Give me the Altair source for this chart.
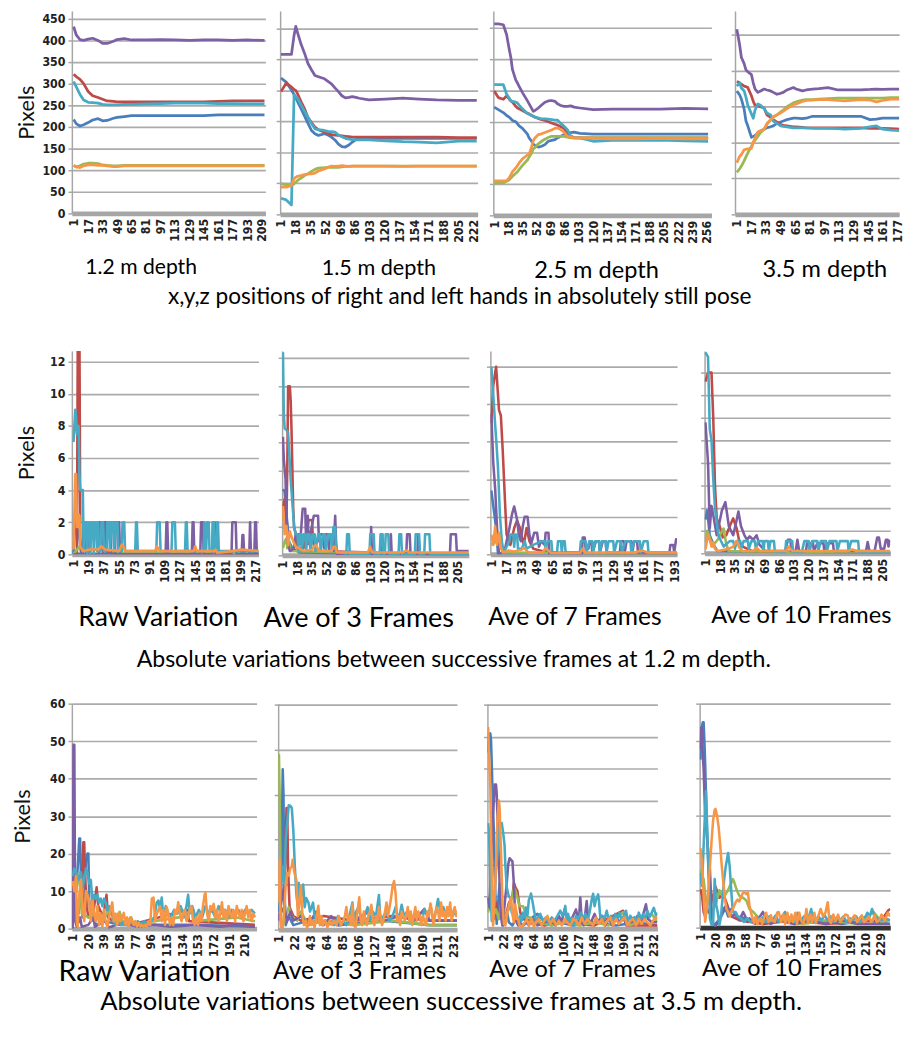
import altair as alt
import pandas as pd

SERIES = ["S1", "S2", "S3", "S4", "S5", "S6"]
COLORS = ["#4A7EBB", "#BE4B48", "#98B954", "#7D5FA3", "#46AAC5", "#F79646"]
LABEL_FONT = "Liberation Sans Narrow, DejaVu Sans Condensed, Liberation Sans, sans-serif"
TITLE_FONT = "Lato"

# ---------------- Row 1 : positions (pixels) ----------------
r1p1_x = [1, 4, 8, 12, 17, 22, 28, 33, 38, 45, 49, 57, 65, 81, 97, 113, 129, 145, 161, 177, 193, 209, 212]
r1p1 = {
    "S1": [217, 207, 202, 205, 210, 216, 219, 214, 215, 220, 222, 224, 226, 226, 226, 226, 226, 226, 228, 228, 228, 228, 228],
    "S2": [322, 316, 310, 300, 282, 272, 268, 264, 260, 259, 258, 258, 258, 258, 258, 258, 258, 258, 259, 260, 260, 260, 260],
    "S3": [111, 107, 110, 114, 116, 116, 115, 112, 111, 110, 110, 111, 111, 111, 111, 111, 111, 111, 111, 111, 111, 111, 111],
    "S4": [432, 412, 402, 400, 403, 405, 400, 393, 393, 398, 402, 404, 401, 401, 402, 401, 400, 401, 401, 400, 401, 400, 400],
    "S5": [305, 292, 275, 262, 257, 256, 255, 252, 251, 251, 251, 252, 252, 253, 254, 255, 255, 255, 254, 254, 253, 253, 253],
    "S6": [111, 108, 106, 110, 112, 112, 111, 111, 110, 108, 108, 110, 110, 110, 110, 110, 110, 110, 110, 110, 110, 110, 110],
}
r1p2_x = [1, 7, 13, 16, 18, 20, 24, 28, 32, 36, 40, 44, 51, 55, 59, 63, 67, 71, 75, 79, 83, 87, 91, 102, 121, 141, 160, 180, 205, 226]
r1p2 = {
    "S1": [330, 320, 301, 290, 282, 273, 256, 238, 220, 203, 195, 191, 195, 192, 187, 180, 170, 164, 163, 168, 175, 181, 183, 184, 184, 184, 184, 184, 184, 184],
    "S2": [297, 318, 308, 302, 300, 292, 273, 256, 234, 222, 211, 205, 199, 196, 193, 192, 191, 190, 189, 188, 187, 187, 187, 187, 187, 187, 187, 187, 186, 186],
    "S3": [74, 72, 70, 74, 78, 82, 88, 94, 98, 104, 109, 112, 113, 114, 114, 114, 114, 115, 116, 116, 117, 117, 117, 117, 117, 117, 117, 117, 117, 117],
    "S4": [387, 387, 387, 433, 455, 440, 412, 390, 365, 350, 336, 333, 328, 322, 316, 306, 297, 287, 282, 283, 285, 283, 281, 277, 279, 281, 279, 277, 276, 276],
    "S5": [39, 35, 23, 289, 285, 281, 265, 250, 235, 220, 207, 205, 203, 201, 200, 199, 192, 188, 184, 182, 181, 180, 180, 180, 178, 176, 175, 173, 177, 177],
    "S6": [66, 66, 70, 86, 90, 92, 94, 96, 98, 98, 100, 105, 110, 114, 117, 116, 117, 118, 117, 116, 117, 117, 117, 117, 117, 116, 117, 117, 117, 117],
}
r1p3_x = [1, 6, 12, 16, 19, 21, 23, 27, 29, 31, 35, 41, 43, 46, 48, 50, 54, 58, 62, 66, 70, 74, 77, 81, 85, 89, 93, 97, 104, 120, 143, 170, 200, 230, 258]
r1p3 = {
    "S1": [260, 254, 247, 240, 236, 232, 228, 225, 220, 215, 209, 195, 186, 178, 171, 168, 164, 166, 170, 178, 180, 182, 186, 190, 194, 198, 199, 200, 197, 195, 195, 195, 195, 195, 195],
    "S2": [299, 283, 279, 287, 280, 275, 272, 262, 258, 256, 252, 245, 244, 240, 238, 236, 233, 230, 228, 225, 222, 219, 217, 213, 209, 194, 190, 187, 186, 186, 186, 186, 186, 186, 186],
    "S3": [78, 78, 78, 82, 85, 90, 94, 101, 105, 110, 120, 133, 140, 150, 160, 163, 172, 178, 183, 187, 190, 190, 190, 190, 190, 188, 186, 186, 186, 186, 186, 186, 186, 186, 186],
    "S4": [460, 460, 458, 434, 400, 380, 350, 325, 318, 310, 295, 275, 268, 257, 250, 252, 258, 265, 272, 275, 276, 274, 268, 264, 262, 262, 263, 260, 258, 254, 255, 255, 255, 257, 256],
    "S5": [314, 314, 314, 291, 282, 275, 274, 272, 270, 265, 256, 245, 243, 240, 238, 236, 234, 232, 232, 231, 230, 229, 229, 221, 214, 206, 190, 186, 186, 178, 180, 180, 181, 179, 178],
    "S6": [83, 83, 83, 83, 90, 97, 105, 114, 120, 126, 136, 145, 147, 165, 180, 186, 194, 196, 199, 202, 205, 209, 210, 206, 200, 190, 188, 186, 186, 185, 184, 184, 185, 184, 184],
}
r1p4_x = [1, 4, 6, 9, 11, 13, 17, 19, 21, 24, 27, 31, 34, 38, 41, 45, 49, 52, 56, 63, 66, 73, 77, 84, 91, 101, 112, 119, 137, 147, 154, 161, 170, 180]
r1p4 = {
    "S1": [258, 250, 241, 220, 195, 185, 161, 163, 165, 170, 174, 178, 181, 183, 185, 190, 193, 195, 198, 201, 201, 200, 201, 205, 205, 205, 205, 205, 205, 198, 199, 201, 201, 201],
    "S2": [278, 275, 272, 268, 267, 265, 248, 236, 228, 226, 225, 222, 208, 203, 198, 193, 188, 186, 185, 183, 183, 182, 181, 181, 181, 181, 181, 181, 181, 180, 180, 180, 179, 178],
    "S3": [88, 95, 101, 112, 120, 128, 142, 150, 155, 163, 171, 178, 188, 198, 204, 208, 214, 218, 225, 233, 235, 239, 240, 240, 241, 242, 243, 243, 243, 243, 243, 243, 244, 244],
    "S4": [387, 355, 328, 315, 302, 298, 292, 275, 262, 255, 258, 262, 260, 258, 255, 251, 253, 255, 260, 265, 262, 258, 260, 262, 263, 265, 260, 260, 260, 261, 262, 261, 262, 262],
    "S5": [268, 275, 264, 258, 245, 228, 210, 201, 218, 231, 228, 221, 212, 208, 195, 190, 185, 184, 183, 181, 181, 181, 181, 180, 180, 180, 179, 178, 180, 183, 185, 178, 176, 175],
    "S6": [108, 121, 125, 135, 136, 137, 138, 150, 160, 172, 175, 178, 190, 197, 203, 208, 212, 216, 221, 229, 231, 236, 238, 239, 240, 240, 238, 237, 240, 239, 235, 238, 241, 241],
}

# ---------------- Row 2 : variations at 1.2 m (frame, pixels) ----------------
r2p1 = {
    "S1": [(1, 0), (4, 3), (6, 2), (10, 0), (222, 0)],
    "S2": [(1, 0), (5, 0), (6, 13.5), (8, 13.5), (9, 1), (10, 0.3), (31, 0.3), (32, 2), (35, 2), (36, 0.3), (50, 0), (222, 0)],
    "S3": [(1, 0), (8, 0.5), (12, 0.3), (31, 0.3), (33, 0.8), (35, 0.3), (60, 0.1), (222, 0.1)],
    "S4": [(1, 0), (12, 0), (13, 2), (15, 2), (16, 0), (17, 2), (19, 2), (20, 0), (31, 0), (32, 2), (35, 2), (36, 0), (37, 2), (39, 2), (40, 0), (41, 2), (44, 2), (45, 0), (46, 2), (49, 2), (50, 0), (51, 2), (55, 2), (56, 0), (110, 0), (111, 2), (112, 2), (113, 0), (141, 0), (142, 2), (143, 2), (144, 0), (151, 0), (152, 2), (154, 2), (155, 0), (165, 0), (166, 2), (168, 2), (169, 0), (188, 0), (189, 2), (193, 2), (194, 0), (200, 0), (201, 1.2), (202, 1.2), (203, 0), (209, 0), (210, 2), (211, 0), (215, 0), (216, 2), (217, 2), (218, 0), (222, 0)],
    "S5": [(1, 7), (3, 9), (4, 8.5), (5, 7.5), (6, 8), (7, 8), (8, 5), (9, 4), (12, 4), (13, 0.2), (14, 2), (16, 2), (17, 0), (18, 2), (20, 2), (21, 0), (22, 2), (24, 2), (25, 0), (26, 2), (28, 2), (29, 0.2), (30, 2), (31, 0.2), (33, 0.2), (34, 2), (36, 2), (37, 0.2), (40, 0.2), (41, 2), (43, 2), (44, 0.2), (46, 2), (48, 2), (49, 0.2), (51, 2), (53, 2), (54, 0.2), (58, 0.2), (59, 2), (61, 2), (62, 0.2), (74, 0.2), (75, 2), (76, 2), (77, 0.2), (99, 0.2), (100, 2), (103, 2), (104, 0.2), (117, 0.2), (118, 2), (121, 2), (122, 0.2), (133, 0.2), (134, 2), (135, 2), (136, 0.2), (155, 0.2), (156, 2), (158, 0.2), (159, 2), (161, 2), (162, 0.2), (165, 0.2), (166, 2), (167, 2), (168, 0.2), (170, 0.2), (171, 2), (172, 2), (173, 0.2), (222, 0.2)],
    "S6": [(1, 0.3), (3, 5), (4, 5), (5, 1.7), (6, 1.7), (7, 2.5), (8, 2.4), (9, 0.5), (12, 0.2), (20, 0.3), (30, 0.3), (34, 0.5), (38, 0.3), (55, 0.2), (58, 0.6), (60, 0.5), (62, 0.2), (98, 0.2), (99, 0.5), (101, 0.4), (103, 0.2), (143, 0.2), (145, 0.5), (147, 0.2), (168, 0.2), (169, 0.3), (171, 0.1), (190, 0.2), (200, 0.3), (222, 0.2)],
}
r2p2 = {
    "S1": [(1, 4.7), (3, 4.5), (5, 3), (8, 1), (12, 0.5), (20, 0.2), (218, 0)],
    "S2": [(1, 3.3), (3, 4), (5, 2), (6, 6), (7, 12), (9, 12), (10, 11), (11, 8.9), (13, 3.3), (14, 2), (16, 1.5), (18, 0.5), (25, 0.5), (28, 1.5), (31, 2.5), (33, 2.5), (35, 2.5), (36, 1), (38, 0.5), (45, 0.3), (218, 0)],
    "S3": [(1, 0.5), (3, 1), (5, 1.2), (6, 0.5), (8, 1), (10, 0.3), (218, 0)],
    "S4": [(1, 8.4), (2, 6.8), (4, 5.4), (5, 2.9), (7, 0.8), (9, 0.3), (14, 0.5), (16, 1.5), (19, 1.5), (21, 0.8), (24, 3.3), (27, 3.3), (28, 1), (30, 2.8), (31, 0.8), (33, 1.5), (37, 2.8), (40, 2.8), (42, 2.8), (43, 1), (45, 1.5), (48, 1.5), (49, 0.5), (51, 1.5), (54, 1.5), (55, 0.3), (60, 0.3), (62, 2.8), (63, 1), (64, 0.1), (103, 0.1), (104, 2), (105, 0.1), (115, 0.1), (116, 1.5), (117, 1.5), (118, 0.1), (126, 0.1), (127, 1.5), (128, 0.1), (145, 0.1), (146, 1.5), (149, 1.5), (150, 0.1), (158, 0.1), (159, 1.5), (161, 0.1), (196, 0.1), (197, 1.5), (203, 1.5), (204, 0.3), (218, 0.3)],
    "S5": [(1, 14.4), (2, 10), (3, 9), (5, 8.9), (7, 8.7), (9, 6.6), (10, 5.4), (13, 2.9), (14, 2), (16, 1.5), (18, 1.5), (19, 0.3), (20, 1.5), (22, 1.5), (23, 0.3), (25, 1.5), (27, 1.5), (28, 0.3), (30, 1.5), (32, 1.5), (33, 0.3), (36, 1.5), (38, 1.5), (39, 0.3), (42, 1.5), (44, 1.5), (45, 0.3), (48, 1.5), (50, 1.5), (51, 0.3), (54, 1.5), (57, 1.5), (58, 0.3), (60, 2), (62, 2), (63, 0.3), (75, 0.1), (76, 1.5), (78, 1.5), (79, 0.1), (102, 0.1), (103, 1.5), (107, 1.5), (108, 0.1), (114, 0.1), (115, 1.5), (117, 1.5), (118, 0.1), (120, 0.1), (121, 1.5), (124, 1.5), (125, 0.1), (136, 0.1), (137, 1.5), (139, 1.5), (140, 0.1), (155, 0.1), (156, 1.5), (160, 1.5), (161, 0.1), (166, 0.1), (167, 1.5), (172, 1.5), (173, 0.1), (218, 0.1)],
    "S6": [(1, 3.5), (2, 2.5), (3, 1.5), (5, 2.1), (7, 0.7), (9, 1.7), (10, 1.5), (13, 1), (16, 0.6), (20, 0.5), (25, 0.3), (35, 0.4), (38, 0.7), (40, 0.7), (43, 0.3), (58, 0.3), (60, 0.6), (62, 0.6), (64, 0.2), (100, 0.2), (103, 0.6), (105, 0.2), (140, 0.2), (146, 0.35), (148, 0.2), (218, 0.2)],
}
r2p3 = {
    "S1": [(1, 3.4), (3, 2.6), (6, 1.4), (8, 0), (196, 0)],
    "S2": [(1, 7), (3, 9), (6, 10), (8, 8.5), (9, 7.7), (11, 7.4), (13, 5.5), (15, 3.2), (17, 1.05), (21, 0.5), (25, 1.4), (28, 1.8), (31, 1.4), (35, 0.5), (38, 1.4), (41, 0.7), (45, 0.3), (60, 0.1), (196, 0)],
    "S3": [(1, 0.5), (4, 0.6), (9, 0.9), (10, 0.7), (12, 0.3), (15, 0.1), (196, 0)],
    "S4": [(1, 7.5), (3, 4.9), (5, 3.5), (7, 1.4), (9, 0), (15, 0.2), (20, 1.4), (23, 2.2), (25, 2.55), (28, 1.85), (30, 1), (32, 0.7), (34, 1.5), (36, 2), (39, 2), (41, 1.05), (43, 0.6), (46, 1.15), (49, 1.15), (51, 0.4), (53, 0.7), (57, 0.5), (58, 1.15), (61, 1.15), (62, 0), (96, 0), (97, 0.9), (99, 0.9), (100, 0.3), (103, 0.3), (104, 0.7), (106, 0.7), (107, 0.1), (111, 0.7), (114, 0.7), (115, 0.1), (118, 0.7), (121, 0.7), (122, 0.1), (136, 0.1), (137, 0.7), (140, 0.7), (141, 0.1), (143, 0.7), (148, 0.7), (149, 0.1), (151, 0.7), (154, 0.7), (155, 0.1), (188, 0.1), (189, 0.5), (192, 0.5), (193, 0.1), (195, 0.8), (196, 0.8)],
    "S5": [(1, 10), (3, 8.5), (5, 6.9), (6, 6.2), (8, 4.6), (10, 2.1), (12, 0.7), (14, 0.1), (16, 0.3), (20, 0.7), (21, 1.05), (24, 1.05), (25, 0.4), (26, 1.05), (28, 1.05), (29, 0.3), (33, 0.3), (36, 0.7), (38, 0.3), (45, 0.5), (54, 0.7), (57, 0.7), (58, 0.2), (60, 0.7), (64, 0.7), (65, 0.1), (70, 0.1), (71, 0.7), (74, 0.7), (75, 0.1), (76, 0.7), (78, 0.7), (79, 0.1), (94, 0.1), (95, 0.7), (100, 0.7), (101, 0.1), (104, 0.7), (107, 0.7), (108, 0.1), (110, 0.7), (114, 0.7), (115, 0.1), (117, 0.7), (121, 0.7), (122, 0.1), (124, 0.7), (129, 0.7), (130, 0.1), (133, 0.7), (137, 0.7), (138, 0.1), (142, 0.7), (147, 0.7), (148, 0.1), (151, 0.7), (157, 0.7), (158, 0.1), (161, 0.7), (165, 0.7), (166, 0.1), (196, 0.1)],
    "S6": [(1, 1.05), (3, 0.5), (5, 1.5), (7, 0.5), (9, 1.15), (11, 0.35), (13, 0.1), (19, 0.2), (25, 0.15), (33, 0.25), (35, 0.35), (37, 0.25), (40, 0.1), (55, 0.1), (58, 0.35), (61, 0.2), (64, 0.05), (94, 0.05), (97, 0.3), (100, 0.1), (150, 0.1), (160, 0.2), (165, 0.1), (196, 0.1)],
}
r2p4 = {
    "S1": [(1, 1.5), (3, 1.9), (6, 0.8), (10, 0.4), (15, 0.1), (214, 0)],
    "S2": [(1, 7.6), (4, 8), (8, 8), (10, 6), (12, 3), (14, 1.55), (17, 1.26), (21, 0.7), (25, 0.8), (29, 1.2), (33, 1.55), (37, 1.1), (40, 0.54), (44, 0.3), (55, 0.1), (214, 0)],
    "S3": [(1, 0.5), (3, 1), (6, 0.7), (9, 0.3), (15, 0.6), (19, 0.9), (22, 1.1), (25, 0.4), (28, 0.1), (214, 0)],
    "S4": [(1, 5.8), (4, 4), (6, 1.1), (8, 2.1), (10, 1.7), (14, 0.8), (20, 1.9), (24, 2.27), (28, 1.2), (33, 0.8), (36, 1.3), (39, 1.85), (42, 1.2), (46, 0.8), (49, 0.6), (52, 0.75), (56, 0.6), (60, 0.8), (63, 0.4), (70, 0.1), (93, 0.1), (96, 0.6), (99, 0.6), (100, 0.1), (105, 0.1), (107, 0.6), (109, 0.1), (117, 0.1), (118, 0.45), (125, 0.45), (126, 0.1), (130, 0.45), (137, 0.45), (138, 0.1), (142, 0.45), (148, 0.45), (149, 0.1), (186, 0.1), (188, 0.5), (190, 0.1), (196, 0.1), (199, 0.7), (201, 0.7), (203, 0.2), (207, 0.2), (209, 0.6), (211, 0.6), (212, 0.3), (214, 0.6)],
    "S5": [(1, 8.9), (4, 8.7), (6, 5.5), (8, 5), (10, 3.3), (12, 2), (16, 0.8), (19, 0.54), (22, 0.3), (29, 0.54), (33, 0.54), (35, 0.2), (37, 0.54), (41, 0.54), (42, 0.2), (45, 0.54), (50, 0.54), (51, 0.2), (54, 0.54), (58, 0.54), (59, 0.2), (62, 0.54), (67, 0.54), (68, 0.1), (69, 0.54), (73, 0.54), (74, 0.1), (76, 0.54), (80, 0.54), (81, 0.05), (93, 0.05), (94, 0.54), (101, 0.54), (102, 0.05), (112, 0.05), (115, 0.54), (120, 0.54), (121, 0.1), (124, 0.54), (130, 0.54), (131, 0.1), (134, 0.54), (140, 0.54), (141, 0.1), (144, 0.54), (152, 0.54), (153, 0.1), (156, 0.54), (165, 0.54), (166, 0.1), (169, 0.54), (177, 0.54), (178, 0.05), (214, 0.05)],
    "S6": [(1, 0.17), (4, 0.83), (6, 0.6), (8, 0.3), (10, 0.5), (12, 0.2), (16, 0.1), (28, 0.2), (33, 0.3), (37, 0.54), (40, 0.25), (44, 0.1), (56, 0.1), (60, 0.25), (64, 0.1), (94, 0.1), (97, 0.3), (101, 0.1), (165, 0.1), (170, 0.17), (175, 0.1), (214, 0.1)],
}

# ---------------- Row 3 : variations at 3.5 m (frame, pixels) ----------------
r3p1 = {
    "S1": [(1, 14), (3, 16), (5, 10), (7, 16), (9, 24), (10, 24), (11, 14), (13, 3), (15, 8), (17, 18), (19, 20), (20, 20), (21, 8), (23, 3), (30, 1), (40, 2), (60, 1), (100, 1), (150, 1), (222, 0.5)],
    "S2": [(1, 5), (8, 4), (12, 10), (14, 23), (15, 23), (16, 14), (18, 6), (20, 3), (26, 4), (30, 11), (32, 6), (38, 3), (42, 9), (44, 3), (50, 2), (80, 1.5), (140, 5), (142, 2), (222, 1)],
    "S3": [(1, 6), (10, 15), (12, 4), (20, 3), (30, 4), (40, 3), (47, 5.5), (50, 2), (58, 4.5), (62, 1), (72, 3), (75, 1), (100, 2), (130, 3), (147, 5), (150, 2), (200, 3), (222, 2)],
    "S4": [(1, 0), (2, 49), (3, 49), (4, 2), (6, 0.5), (10, 3), (12, 0.5), (20, 1), (26, 3), (28, 0.5), (40, 2), (45, 0.3), (60, 1.5), (80, 0.5), (100, 1), (120, 0.5), (150, 1), (180, 0.5), (200, 1), (222, 0.5)],
    "S5": [(1, 14), (3, 16), (5, 15), (7, 14), (9, 13), (11, 15), (13, 11), (15, 13), (17, 16), (19, 15), (21, 12), (23, 13), (25, 7), (27, 9), (29, 8), (31, 9), (33, 7), (35, 8), (37, 6), (39, 8), (41, 7), (43, 5), (45, 6), (47, 4), (49, 5), (51, 2), (53, 1), (56, 2), (60, 1), (64, 2), (68, 1), (72, 2), (76, 1), (80, 2), (84, 1), (88, 2), (92, 1), (96, 2), (100, 3), (103, 7), (105, 7.5), (107, 5), (109, 8.3), (111, 3), (114, 6), (117, 4), (120, 3), (124, 5), (128, 4), (132, 6), (136, 3), (139, 6), (141, 9), (143, 4), (146, 6), (150, 3), (154, 5), (158, 3), (162, 6), (166, 4), (170, 5), (174, 3), (178, 6), (182, 4), (186, 5), (190, 3), (194, 5), (198, 4), (202, 5), (206, 3), (210, 5), (214, 4), (218, 5), (222, 4)],
    "S6": [(1, 12.7), (3, 10), (5, 14), (6, 2), (7, 0.5), (9, 9), (11, 13), (13, 6), (15, 2), (17, 10), (19, 9), (21, 7.5), (23, 2), (25, 7.5), (27, 4), (29, 2), (31, 6), (33, 1), (35, 4), (37, 0.5), (39, 5), (41, 2), (43, 0.5), (45, 3), (47, 5), (49, 7), (51, 2), (53, 4), (55, 1), (57, 4), (59, 2), (61, 3), (63, 4.2), (65, 1), (67, 3), (69, 0.5), (71, 3), (73, 2), (75, 1), (77, 2), (79, 0.5), (81, 1.5), (83, 0.5), (85, 1), (87, 0.5), (89, 1), (91, 0.5), (93, 2), (95, 1), (97, 8), (99, 8.3), (101, 2), (103, 4), (105, 5), (107, 6), (109, 2), (111, 5), (113, 1), (115, 5.7), (117, 4), (119, 1), (121, 3), (123, 1), (125, 5), (127, 4), (129, 7), (131, 4), (133, 2), (135, 4), (137, 5), (139, 2), (141, 3), (143, 5), (145, 6), (147, 2), (149, 1), (151, 3), (153, 1), (155, 4), (157, 2), (159, 6), (161, 9), (162, 9.6), (164, 4), (166, 2), (168, 6), (170, 5), (172, 6.6), (174, 3), (176, 5), (178, 2), (180, 4), (182, 7), (184, 3), (186, 5), (188, 2), (190, 6), (192, 4), (194, 3), (196, 5), (198, 2), (200, 6), (202, 4), (204, 3), (206, 5), (208, 2), (210, 4), (212, 6), (214, 3), (216, 5), (218, 2), (220, 4), (222, 3)],
}
r3p2 = {
    "S1": [(1, 4), (4, 10), (6, 35.6), (7, 30), (8, 9.7), (10, 1), (14, 3), (20, 1), (40, 2), (80, 1), (140, 2), (200, 1), (236, 1)],
    "S2": [(1, 3), (8, 5), (10, 20), (11, 27), (12, 27), (13, 14), (15, 5), (20, 3), (30, 2), (60, 3), (100, 2), (150, 3), (200, 2), (236, 2)],
    "S3": [(1, 39), (2, 30), (3, 14), (4, 2), (6, 1), (10, 3), (14, 5), (18, 3), (25, 2), (30, 4), (40, 1), (60, 2), (100, 1), (150, 2), (200, 1), (236, 1)],
    "S4": [(1, 2), (3, 5), (6, 8), (8, 10), (9, 4), (12, 2), (16, 4), (20, 2), (30, 3), (40, 1), (50, 4), (60, 1), (70, 3), (80, 1), (100, 2), (120, 4), (140, 2), (160, 3), (180, 2), (193, 4.6), (200, 2), (236, 2)],
    "S5": [(1, 8), (2, 6), (4, 11), (6, 14), (8, 10), (10, 20), (12, 24), (14, 27.6), (16, 27.5), (18, 27), (20, 22), (22, 14), (24, 8), (26, 5), (27, 10.4), (29, 6), (31, 8), (33, 10), (35, 5), (37, 7), (40, 6), (42, 4), (44, 5), (46, 6), (48, 3), (50, 2), (54, 3), (58, 1), (62, 2), (66, 1), (70, 2), (74, 1), (77, 2), (79, 3), (82, 1), (86, 2), (90, 1), (94, 3), (98, 6), (100, 2), (103, 4), (106, 5), (110, 2), (114, 3), (118, 5), (121, 2), (125, 4), (129, 3), (133, 7.7), (135, 2), (139, 3), (143, 4), (147, 2), (151, 3), (155, 5), (159, 2), (163, 5.5), (166, 3), (170, 4), (174, 2), (178, 3), (182, 4), (186, 3), (190, 2), (193, 4.6), (197, 3), (201, 5), (205, 2), (208, 4), (211, 6.8), (214, 4), (218, 5), (222, 3), (226, 5), (230, 3), (234, 4), (236, 3)],
    "S6": [(1, 6), (2, 15.5), (3, 2), (4, 0.5), (6, 0.5), (8, 4), (10, 10), (12, 12.6), (14, 12), (16, 13.7), (18, 14), (19, 15.5), (21, 13), (24, 11), (26, 3), (28, 6), (30, 9.7), (32, 3), (34, 1), (36, 2), (38, 0.5), (40, 1), (42, 3), (44, 1), (46, 2), (48, 0.5), (50, 2), (53, 5.3), (55, 1), (57, 3), (59, 1), (62, 2), (65, 0.5), (68, 2), (71, 1), (74, 2), (77, 1), (80, 3), (83, 1), (86, 2), (88, 3), (90, 5), (92, 2), (94, 3), (96, 1), (98, 5.7), (100, 1), (102, 0.5), (104, 3), (107, 7.2), (109, 2), (111, 1), (113, 4), (115, 2), (117, 1), (119, 3), (121, 4), (123, 5.5), (125, 2), (127, 1), (129, 3), (131, 2), (133, 5), (135, 3), (137, 1), (139, 2), (141, 4), (143, 6), (145, 3), (147, 5), (149, 7), (151, 9.7), (153, 10.8), (155, 8), (157, 2), (159, 3), (161, 1), (163, 4), (165, 3), (167, 2), (169, 3), (171, 5), (173, 2), (175, 4), (177, 1), (179, 3), (181, 5), (183, 2), (185, 4), (187, 3), (189, 1), (191, 3), (193, 2), (195, 1), (197, 4), (199, 3), (201, 5.8), (203, 4), (205, 1), (207, 3), (209, 5), (211, 4), (213, 2), (215, 6), (217, 3), (219, 4), (221, 2), (223, 5), (225, 3), (227, 6), (229, 2), (231, 4), (233, 5), (235, 3), (236, 4)],
}
r3p3 = {
    "S1": [(1, 55), (2, 60.7), (4, 61), (5, 59), (7, 44), (9, 30), (10, 18), (12, 5), (13, 1.5), (15, 8), (17, 14), (18, 10), (20, 3.5), (22, 1), (25, 3), (28, 4.6), (30, 2), (35, 1), (40, 3), (45, 2), (50, 1), (60, 3), (70, 4.6), (80, 2), (90, 1), (100, 2), (120, 1), (150, 2), (180, 1), (210, 2), (238, 1)],
    "S2": [(1, 9.7), (3, 6), (5, 15), (7, 8), (9, 3), (12, 8), (15, 4), (20, 6), (25, 3), (30, 8), (35, 10), (37, 14.3), (39, 13), (42, 11.7), (46, 5), (50, 3), (60, 2), (80, 1), (100, 2), (150, 1), (190, 5.6), (195, 1), (238, 1)],
    "S3": [(1, 5), (3, 9.7), (5, 12.8), (8, 4), (12, 6), (16, 3), (20, 8), (25, 4), (30, 6), (35, 10), (37, 12.8), (39, 12), (42, 9.7), (45, 7), (50, 7), (53, 5), (56, 3.6), (60, 3.5), (62, 1.5), (70, 2), (90, 1), (110, 2), (130, 1), (150, 2), (170, 1), (190, 5.1), (200, 1), (210, 2), (230, 4.6), (238, 2)],
    "S4": [(1, 9.7), (3, 6.6), (5, 20), (7, 34), (9, 40), (10, 45), (12, 45), (13, 42), (15, 29), (17, 14), (19, 3.6), (21, 1), (23, 5), (25, 9.7), (27, 14), (29, 20), (31, 22), (33, 21.5), (35, 21), (37, 14), (39, 3.6), (41, 2), (43, 1), (46, 3), (50, 4.6), (54, 2), (58, 1), (62, 2.5), (66, 3), (70, 1), (80, 2), (90, 3), (95, 1), (100, 4), (104, 2), (108, 6), (112, 3), (116, 2), (120, 4), (124, 6), (128, 2), (130, 9.7), (132, 2.5), (135, 1), (139, 8.6), (141, 3), (145, 2), (150, 4.6), (155, 2), (160, 4), (165, 1), (170, 3), (175, 1), (180, 4), (185, 2), (190, 3.5), (195, 1), (200, 3), (205, 2), (210, 4), (215, 2), (220, 6), (222, 7.6), (225, 3), (230, 2), (238, 2)],
    "S5": [(1, 33), (2, 31), (3, 24), (4, 15.8), (6, 2.5), (8, 4.6), (10, 11), (12, 18), (14, 23), (15, 26), (17, 32), (19, 33), (20, 33), (22, 30), (24, 26), (25, 20), (27, 13), (28, 12), (30, 10), (32, 9.7), (34, 5), (36, 4.6), (38, 6), (40, 5.6), (42, 3.6), (44, 2), (46, 4), (48, 2.5), (50, 5), (52, 3.5), (54, 6.6), (56, 4), (58, 9), (60, 10), (61, 11), (63, 8.6), (65, 6), (67, 3.6), (69, 2), (71, 3.5), (74, 4.6), (78, 2.5), (82, 3.5), (86, 1.5), (90, 3.5), (94, 2.5), (98, 4), (102, 5.6), (105, 4), (107, 5), (109, 7.1), (111, 3), (113, 4.6), (115, 2.5), (118, 3.5), (121, 1), (124, 4), (127, 3), (131, 5), (134, 3), (137, 4.6), (140, 2.5), (143, 5), (146, 9), (148, 10.9), (150, 7), (152, 9), (155, 10.7), (156, 9), (158, 3.6), (161, 4), (164, 3), (167, 5.6), (170, 2.5), (173, 4), (176, 2), (179, 4.6), (182, 3), (185, 5), (188, 2.5), (191, 4), (194, 5.6), (197, 2), (200, 4), (203, 3), (206, 3.6), (209, 2), (212, 5), (215, 3), (218, 4.6), (221, 3), (224, 5.6), (227, 3.6), (230, 5), (233, 6.5), (236, 4), (238, 5)],
    "S6": [(1, 63), (2, 55), (4, 44), (6, 18), (7, 3.6), (8, 1), (10, 9.7), (12, 20), (14, 34), (16, 40), (17, 38), (19, 24), (21, 8.7), (23, 1.5), (25, 1), (28, 5), (31, 8), (33, 9.7), (35, 4.5), (37, 2), (39, 7.6), (41, 3), (43, 3), (45, 1), (48, 0.5), (51, 1.5), (55, 3), (58, 1), (62, 3.1), (65, 0.5), (68, 2), (72, 3), (76, 1), (80, 2.5), (84, 4), (88, 1.5), (92, 3), (96, 1), (100, 2.5), (104, 1), (108, 3), (112, 2), (116, 1), (120, 3), (124, 2.5), (128, 1), (132, 3.5), (136, 1.5), (140, 3), (144, 2), (148, 1), (152, 3.5), (156, 1.5), (160, 3), (164, 1), (168, 2.5), (172, 3.5), (176, 1), (180, 3), (184, 1.5), (188, 2.5), (192, 3.5), (196, 1), (200, 2.5), (204, 3), (208, 1), (212, 3), (216, 1.5), (220, 3), (224, 2), (228, 1), (232, 2.5), (236, 3.5), (238, 3)],
}
r3p4 = {
    "S1": [(1, 45), (2, 53), (4, 55), (5, 55), (6, 50), (7, 43.6), (9, 27.8), (11, 16.4), (13, 8.6), (15, 3.4), (17, 1), (19, 0.7), (22, 1.5), (26, 2.5), (30, 4.2), (33, 5), (36, 3), (40, 5), (44, 4), (48, 2.5), (52, 3), (56, 2.5), (60, 1.5), (70, 2), (80, 1), (100, 2), (120, 1), (150, 2), (180, 1), (210, 2), (241, 1)],
    "S2": [(1, 10.3), (3, 8.6), (5, 4.2), (7, 3), (9, 5), (12, 4), (15, 7), (20, 11), (25, 8), (30, 9), (35, 6), (40, 3), (50, 2), (80, 1), (120, 2), (160, 1), (200, 1.5), (230, 2), (238, 4.5), (241, 5)],
    "S3": [(1, 15.6), (3, 14), (5, 13), (7, 9), (9, 6), (12, 8), (15, 4), (20, 6), (25, 10), (30, 8), (35, 9.7), (40, 12), (42, 13), (44, 12), (47, 10), (50, 8.6), (55, 8), (59, 7.3), (63, 5), (68, 4.2), (75, 2.5), (85, 1.5), (100, 2), (130, 1), (160, 2), (200, 1), (220, 4.2), (230, 1.5), (241, 2)],
    "S4": [(1, 48), (2, 53.6), (3, 53), (4, 46), (5, 42.7), (7, 29.6), (9, 25), (11, 20), (13, 15.6), (15, 5), (17, 1), (20, 0.5), (25, 2), (30, 5), (34, 6), (38, 4), (42, 3), (46, 4), (50, 2), (55, 4.2), (60, 2), (63, 2.5), (70, 1), (80, 4.2), (84, 2), (90, 1), (100, 2), (120, 1), (140, 2), (160, 1), (180, 2), (200, 1), (241, 1)],
    "S5": [(1, 14.7), (2, 12), (3, 11.2), (5, 21.7), (7, 32), (8, 36.6), (9, 30), (11, 16.4), (13, 2.5), (15, 0.7), (17, 0.7), (19, 13), (21, 6), (23, 4), (25, 0.7), (27, 3), (29, 8), (31, 13), (33, 16.4), (36, 20), (38, 16.4), (40, 9.7), (42, 4.2), (45, 4.2), (48, 3), (52, 2.5), (56, 1.5), (60, 2.5), (64, 1.5), (68, 2), (72, 3), (76, 2), (80, 2.8), (84, 1.5), (88, 3), (92, 2), (96, 3.3), (100, 1.5), (104, 3), (108, 4.2), (112, 2), (116, 3), (120, 1.5), (124, 4), (128, 2), (132, 3), (136, 2), (139, 3.5), (141, 5), (143, 2.5), (146, 1.5), (150, 3), (154, 2), (158, 3.3), (162, 2), (166, 3), (170, 1.5), (174, 2.5), (178, 2), (182, 3), (186, 1.5), (190, 2.5), (194, 2), (198, 3), (202, 1.5), (206, 2.5), (210, 3), (212, 4), (215, 3), (218, 5), (221, 3), (225, 2.5), (230, 2), (235, 2.5), (241, 2)],
    "S6": [(1, 21.3), (2, 19), (3, 18.2), (4, 12), (5, 8.6), (7, 1.6), (9, 5), (11, 10), (13, 16.4), (15, 23), (17, 28.7), (19, 31.5), (20, 31.8), (22, 30), (24, 27), (26, 22), (28, 16.4), (30, 12), (32, 7.7), (34, 5), (36, 4.2), (38, 3), (40, 4.2), (42, 5), (44, 6), (46, 7), (48, 7.5), (50, 7), (52, 8), (55, 9.4), (57, 9.4), (59, 9), (61, 9.4), (63, 6), (65, 4), (67, 2.5), (69, 1.2), (71, 3), (73, 1), (75, 2), (77, 2.5), (79, 1), (82, 3), (84, 4), (87, 1.5), (90, 3.3), (92, 2), (95, 1.5), (98, 4), (100, 4.2), (103, 1.5), (106, 3.5), (108, 1), (111, 4), (113, 1.2), (116, 3.5), (118, 1.5), (121, 4), (123, 1), (126, 4), (128, 2), (131, 1), (134, 3.5), (135, 5), (137, 1.2), (140, 3.5), (142, 1.5), (145, 4), (147, 1.2), (150, 3), (153, 5), (156, 3), (159, 4), (162, 6.8), (164, 2), (166, 1.2), (169, 3.5), (172, 1.8), (175, 3.5), (178, 1.5), (181, 2.5), (184, 3.5), (187, 3.3), (190, 1.5), (193, 2.5), (196, 3.3), (199, 1.5), (202, 2.5), (205, 3.3), (208, 1.5), (211, 2), (214, 3), (217, 1.5), (219, 2), (221, 3.3), (224, 1.5), (227, 2), (230, 3.5), (234, 2), (238, 4), (241, 3)],
}

# ---------------- tick labels / grid values ----------------
r1_xt = [
    [1, 17, 33, 49, 65, 81, 97, 113, 129, 145, 161, 177, 193, 209],
    [1, 18, 35, 52, 69, 86, 103, 120, 137, 154, 171, 188, 205, 222],
    [1, 18, 35, 52, 69, 86, 103, 120, 137, 154, 171, 188, 205, 222, 239, 256],
    [1, 17, 33, 49, 65, 81, 97, 113, 129, 145, 161, 177],
]
r2_xt = [
    [1, 19, 37, 55, 73, 91, 109, 127, 145, 163, 181, 199, 217],
    [1, 18, 35, 52, 69, 86, 103, 120, 137, 154, 171, 188, 205],
    [1, 17, 33, 49, 65, 81, 97, 113, 129, 145, 161, 177, 193],
    [1, 18, 35, 52, 69, 86, 103, 120, 137, 154, 171, 188, 205],
]
r3_xt = [
    [1, 20, 39, 58, 77, 96, 115, 134, 153, 172, 191, 210],
    [1, 22, 43, 64, 85, 106, 127, 148, 169, 190, 211, 232],
    [1, 22, 43, 64, 85, 106, 127, 148, 169, 190, 211, 232],
    [1, 20, 39, 58, 77, 96, 115, 134, 153, 172, 191, 210, 229],
]
r1_grid = [[0, 50, 100, 150, 200, 250, 300, 350, 400, 450],
           [0, 75, 150, 225, 300, 375, 450],
           [0, 75, 150, 225, 300, 375, 450],
           [0, 75, 150, 225, 300, 375]]
r2_grid = [[0, 2, 4, 6, 8, 10, 12],
           [0, 2, 4, 6, 8, 10, 12, 14],
           [0, 2, 4, 6, 8, 10],
           [0, 1, 2, 3, 4, 5, 6, 7, 8]]
r3_grid = [[0, 10, 20, 30, 40, 50, 60],
           [0, 10, 20, 30, 40, 50],
           [0, 10, 20, 30, 40, 50, 60, 70],
           [0, 10, 20, 30, 40, 50, 60]]

r1_titles = ["1.2 m depth", "1.5 m depth", "2.5 m depth", "3.5 m depth"]
r2_titles = ["Raw Variation", "Ave of 3 Frames", "Ave of 7 Frames", "Ave of 10 Frames"]
r3_titles = ["Raw Variation", "Ave of 3 Frames", "Ave of 7 Frames", "Ave of 10 Frames"]
captions = [
    "x,y,z positions of right and left hands in absolutely still pose",
    "Absolute variations between successive frames at 1.2 m depth.",
    "Absolute variations between successive frames at 3.5 m depth.",
]


def df_from_lists(xs, series):
    rows = []
    for s in SERIES:
        for x, v in zip(xs, series[s]):
            rows.append({"frame": x, "value": v, "series": s})
    return pd.DataFrame(rows)


def df_from_pairs(series):
    rows = []
    for s in SERIES:
        for x, v in series[s]:
            rows.append({"frame": x, "value": v, "series": s})
    return pd.DataFrame(rows)


def panel(df, w, h, ymax, grid, ylab, ext, xdom, xt, title, tfs, toff, tdx=0,
          tpad=6, xdomain_color="#a6a6a6", sw=2.6):
    yax = dict(values=grid, grid=True, gridColor="#ababab", gridWidth=1.7,
               domainColor="#a6a6a6", domainWidth=1.5, tickColor="#a6a6a6",
               tickSize=4, tickWidth=1.5, labels=ylab, labelFont=LABEL_FONT,
               labelFontSize=12.5, labelFontWeight="bold", labelColor="#222",
               labelPadding=3, minExtent=ext, maxExtent=ext)
    if ylab:
        yax.update(title="Pixels", titleFont=TITLE_FONT, titleFontSize=22,
                   titleFontWeight="normal", titlePadding=tpad, titleColor="#111")
    xax = dict(values=xt, labelAngle=270, labelOverlap=False, labelFlush=False,
               grid=False, ticks=False, domainColor=xdomain_color, domainWidth=5,
               labelFont=LABEL_FONT, labelFontSize=12.5, labelFontWeight="bold",
               labelColor="#222", labelPadding=5)
    if ylab:
        y_enc = alt.Y("value:Q", scale=alt.Scale(domain=[0, ymax], nice=False, zero=True),
                      axis=alt.Axis(**yax))
    else:
        y_enc = alt.Y("value:Q", title=None,
                      scale=alt.Scale(domain=[0, ymax], nice=False, zero=True),
                      axis=alt.Axis(**yax))
    return alt.Chart(df).mark_line(strokeWidth=sw, clip=True, strokeJoin="round").encode(
        x=alt.X("frame:Q", title=None,
                scale=alt.Scale(domain=xdom, nice=False, zero=False),
                axis=alt.Axis(**xax)),
        y=y_enc,
        color=alt.Color("series:N", scale=alt.Scale(domain=SERIES, range=COLORS), legend=None),
    ).properties(
        width=w, height=h,
        title=alt.TitleParams(title, orient="bottom", font=TITLE_FONT, fontSize=tfs,
                              fontWeight="normal", color="#000", offset=toff, dx=tdx),
    )


def row(panels, caption, cfs, coff):
    return alt.hconcat(*panels, spacing=0).properties(
        title=alt.TitleParams(caption, orient="bottom", font=TITLE_FONT, fontSize=cfs,
                              fontWeight="normal", color="#000", offset=coff, anchor="middle")
    )


row1 = row([
    panel(df_from_lists(r1p1_x, r1p1), 197, 206, 468, r1_grid[0], True, 28, [-1, 213], r1_xt[0], r1_titles[0], 21.5, 16, tdx=-28, sw=2.8),
    panel(df_from_lists(r1p2_x, r1p2), 201, 207, 492, r1_grid[1], False, 12, [0, 227], r1_xt[1], r1_titles[1], 22, 16, sw=2.8),
    panel(df_from_lists(r1p3_x, r1p3), 222, 208, 491, r1_grid[2], False, 13, [0, 262], r1_xt[2], r1_titles[2], 24, 16, tdx=-6, sw=2.8),
    panel(df_from_lists(r1p4_x, r1p4), 167, 207, 425, r1_grid[3], False, 22, [-1, 179], r1_xt[3], r1_titles[3], 24, 16, tdx=8, sw=2.8),
], captions[0], 23, 4)

row2 = row([
    panel(df_from_pairs(r2p1), 190, 207, 12.67, r2_grid[0], True, 28, [-1, 220], r2_xt[0], r2_titles[0], 27, 23, tdx=-7),
    panel(df_from_pairs(r2p2), 190, 208, 14.5, r2_grid[1], False, 20, [0, 218], r2_xt[1], r2_titles[1], 27.5, 23, tdx=-17),
    panel(df_from_pairs(r2p3), 190, 207, 10.84, r2_grid[2], False, 22, [0, 196], r2_xt[2], r2_titles[2], 25, 23, tdx=-9),
    panel(df_from_pairs(r2p4), 189, 206, 8.96, r2_grid[3], False, 24, [0, 214], r2_xt[3], r2_titles[3], 24, 23, tdx=4),
], captions[1], 23.5, 16)

row3 = row([
    panel(df_from_pairs(r3p1), 188, 229, 60, r3_grid[0], True, 32, [0, 224], r3_xt[0], r3_titles[0], 29, 2, tdx=-20),
    panel(df_from_pairs(r3p2), 182, 230, 50.2, r3_grid[1], False, 22, [0, 236], r3_xt[1], r3_titles[1], 25, 2, tdx=-8),
    panel(df_from_pairs(r3p3), 173, 229, 70.3, r3_grid[2], False, 27, [0, 238], r3_xt[2], r3_titles[2], 24, 2),
    panel(df_from_pairs(r3p4), 194, 228, 60, r3_grid[3], False, 40, [0, 241], r3_xt[3], r3_titles[3], 24, 2, tdx=-3,
          xdomain_color="#333333"),
], captions[2], 26, 2)

chart = alt.vconcat(row1, alt.vconcat(row2, row3, spacing=26), spacing=42).properties(
    padding={"left": 4, "top": -6, "right": 0, "bottom": 0},
    background="white",
).configure_view(stroke=None)

chart.save("out.html", embed_options={"renderer": "svg", "actions": False})
